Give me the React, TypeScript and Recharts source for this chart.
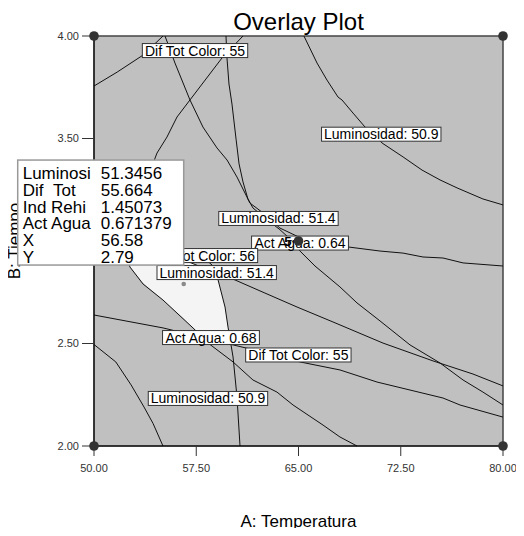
import React from 'react';
import {
    ComposedChart,
    Line,
    Area,
    Scatter,
    XAxis,
    YAxis,
    CartesianGrid,
    ReferenceArea,
    Label,
} from 'recharts';

const FONT = "'Liberation Sans', Arial, Helvetica, sans-serif";

const CHART_W = 508;
const CHART_H = 520;
const MARGIN = { top: 28, right: 13, bottom: 0, left: 0 };
const Y_AXIS_W = 86;
const X_AXIS_H = 82;

const xDomain = [50, 80];
const yDomain = [2, 4];
const xTicks = [50, 57.5, 65, 72.5, 80];
const yTicks = [2, 2.5, 3, 3.5, 4];

// contour lines as [A: Temperatura, B: Tiempo]
const difTot55Upper = [[50, 3.756], [51.7, 3.824], [53.6, 3.907], [55.06, 4.0]];
const actAgua064 = [
    [55.21, 4.0], [55.94, 3.868], [57.04, 3.688], [57.99, 3.556], [59.02, 3.454], [59.76, 3.395],
    [60.49, 3.312], [61.44, 3.185], [62.32, 3.141], [63.64, 3.063], [65.0, 3.02], [66.5, 2.995],
    [68.63, 2.971], [70.98, 2.951], [72.67, 2.941], [74.13, 2.922], [75.6, 2.917], [77.07, 2.893], [80, 2.878],
];
const lum514Upper = [
    [59.68, 4.0], [59.76, 3.888], [59.9, 3.766], [60.12, 3.668], [60.42, 3.497], [60.64, 3.376],
    [60.93, 3.288], [61.29, 3.205], [61.66, 3.161], [62.4, 3.12], [63.64, 3.055], [64.38, 3.01],
    [65.11, 2.951], [66.21, 2.878], [68.04, 2.776], [69.29, 2.698], [70.98, 2.61], [73.18, 2.493],
    [75.38, 2.405], [77.07, 2.322], [78.53, 2.263], [80, 2.2],
];
const lum509Upper = [
    [65.4, 4.0], [66.36, 3.868], [67.09, 3.785], [67.9, 3.702], [68.19, 3.688], [69.0, 3.624],
    [69.88, 3.556], [70.6, 3.517], [71.13, 3.478], [72.67, 3.41], [74.06, 3.346], [75.38, 3.298],
    [76.63, 3.259], [78.53, 3.205], [80, 3.176],
];
const lum514Lower = [
    [50, 3.1], [53.6, 3.0], [56.5, 2.91], [59.1, 2.84], [60.34, 2.81], [62.54, 2.746], [64.89, 2.678],
    [67.53, 2.605], [71.2, 2.502], [74.87, 2.415], [77.8, 2.351], [80, 2.293],
];
const actAgua068 = [
    [60.93, 4.0], [59.39, 3.893], [57.04, 3.688], [56.09, 3.605], [55.35, 3.507], [54.62, 3.429],
    [54.0, 3.32], [53.2, 3.2], [52.5, 3.07], [52.27, 2.98], [52.35, 2.92], [52.64, 2.873], [53.6, 2.79],
    [55.06, 2.712], [57.26, 2.576], [58.51, 2.495], [60.2, 2.41], [61.66, 2.322], [63.42, 2.263],
    [64.6, 2.2], [66.8, 2.102], [68.04, 2.044], [69.29, 2.0],
];
const difTot55Lower = [
    [50, 2.639], [55.06, 2.576], [57.78, 2.532], [61.15, 2.478], [62.9, 2.449], [65.11, 2.41],
    [68.04, 2.371], [70.76, 2.312], [75.6, 2.234], [76.85, 2.2], [80, 2.141],
];
const lum509Lower = [[50, 2.495], [51.6, 2.41], [52.72, 2.298], [53.67, 2.19], [54.33, 2.11], [55.06, 2.0]];
const difTot56 = [
    [53.37, 3.078], [55.21, 3.005], [56.53, 2.956], [57.85, 2.927], [58.66, 2.883], [59.1, 2.81],
    [59.61, 2.678], [59.83, 2.58], [60.2, 2.434], [60.49, 2.239], [60.71, 2.0],
];

const contours = [
    difTot55Upper, actAgua064, lum514Upper, lum509Upper, lum514Lower,
    actAgua068, difTot55Lower, lum509Lower, difTot56,
];

// feasible (white) window: [A, lower B, upper B]
const feasibleRegion = [
    [52.27, 2.946, 3.039], [52.64, 2.873, 3.029], [53.59, 2.795, 3.0], [55.06, 2.712, 2.956],
    [56.53, 2.624, 2.91], [57.26, 2.576, 2.89], [57.92, 2.532, 2.871], [58.51, 2.522, 2.854],
    [58.88, 2.517, 2.844], [59.1, 2.514, 2.81], [59.61, 2.507, 2.678], [59.83, 2.503, 2.58],
    [60.05, 2.499, 2.498],
];

const contourLabels = [
    { x: 57.41, y: 3.929, text: 'Dif Tot Color: 55' },
    { x: 71.07, y: 3.521, text: 'Luminosidad: 50.9' },
    { x: 63.53, y: 3.11, text: 'Luminosidad: 51.4' },
    { x: 65.11, y: 2.99, text: 'Act Agua: 0.64' },
    { x: 58.14, y: 2.929, text: 'Dif Tot Color: 56' },
    { x: 59.0, y: 2.846, text: 'Luminosidad: 51.4' },
    { x: 58.58, y: 2.529, text: 'Act Agua: 0.68' },
    { x: 64.99, y: 2.444, text: 'Dif Tot Color: 55' },
    { x: 58.36, y: 2.232, text: 'Luminosidad: 50.9' },
];

const designPoints = [
    { x: 50, y: 2, n: 1 },
    { x: 50, y: 4, n: 1 },
    { x: 80, y: 2, n: 1 },
    { x: 80, y: 4, n: 1 },
    { x: 65, y: 3, n: 5 },
];

const flagPoint = [{ x: 56.58, y: 2.79 }];
const flagNames = ['Luminosi', 'Dif\u00a0\u00a0Tot', 'Ind Rehi', 'Act Agua', 'X', 'Y'];
const flagValues = ['51.3456', '55.664', '1.45073', '0.671379', '56.58', '2.79'];

const toPoints = (pts: number[][]) => pts.map(([x, y]) => ({ x, y }));

// same linear mapping the axes use, for the flag overlay that must sit above the axes
const plotW = CHART_W - MARGIN.left - MARGIN.right - Y_AXIS_W;
const plotH = CHART_H - MARGIN.top - MARGIN.bottom - X_AXIS_H;
const toPxX = (x: number) => MARGIN.left + Y_AXIS_W + ((x - xDomain[0]) / (xDomain[1] - xDomain[0])) * plotW;
const toPxY = (y: number) => MARGIN.top + ((yDomain[1] - y) / (yDomain[1] - yDomain[0])) * plotH;

let measureCtx: CanvasRenderingContext2D | null = null;
function textWidth(s: string, size: number) {
    if (!measureCtx) measureCtx = document.createElement('canvas').getContext('2d');
    if (!measureCtx) return s.length * size * 0.5;
    measureCtx.font = `${size}px ${FONT}`;
    return measureCtx.measureText(s).width;
}

// eslint-disable-next-line @typescript-eslint/no-explicit-any
const ContourLabel = (props: any) => {
    const { cx, cy, payload } = props;
    const w = textWidth(payload.text, 14) + 5;
    const h = 14;
    return (
        <g>
            <rect x={cx - w / 2} y={cy - h / 2} width={w} height={h} fill="#fff" stroke="#333" strokeWidth={1} />
            <text x={cx} y={cy + 5} textAnchor="middle" fontSize={14} fontFamily={FONT} fill="#000">
                {payload.text}
            </text>
        </g>
    );
};

// eslint-disable-next-line @typescript-eslint/no-explicit-any
const DesignPoint = (props: any) => {
    const { cx, cy, payload } = props;
    return (
        <g>
            {payload.n > 1 && (
                <text x={cx - 7} y={cy + 4.5} textAnchor="end" fontSize={13} fontWeight="bold" fontFamily={FONT} fill="#000">
                    {payload.n}
                </text>
            )}
            <circle cx={cx} cy={cy} r={4.8} fill="#333" />
        </g>
    );
};

// eslint-disable-next-line @typescript-eslint/no-explicit-any
const FlagDot = (props: any) => <circle cx={props.cx} cy={props.cy} r={2.3} fill="#8a8a8a" />;

function FlagBox() {
    const cx = toPxX(flagPoint[0].x);
    const cy = toPxY(flagPoint[0].y);
    const left = cx - 166;
    const top = cy - 124;
    return (
        <svg
            width={CHART_W}
            height={CHART_H}
            style={{ position: 'absolute', left: 0, top: 0, overflow: 'visible', pointerEvents: 'none' }}
        >
            <rect x={left} y={top} width={166} height={105} fill="#fff" stroke="#999" strokeWidth={1.5} />
            {flagNames.map((name, i) => (
                <g key={name}>
                    <text x={left + 5} y={top + 19 + i * 16.8} fontSize={17} fontFamily={FONT} fill="#000">
                        {name}
                    </text>
                    <text x={left + 83} y={top + 19 + i * 16.8} fontSize={17} fontFamily={FONT} fill="#000">
                        {flagValues[i]}
                    </text>
                </g>
            ))}
        </svg>
    );
}

// eslint-disable-next-line @typescript-eslint/no-explicit-any
const XTitle = (props: any) => {
    const vb = props.viewBox;
    return (
        <text x={vb.x + vb.width / 2} y={vb.y + 81} textAnchor="middle" fontSize={17} fontFamily={FONT} fill="#000">
            A: Temperatura
        </text>
    );
};

// eslint-disable-next-line @typescript-eslint/no-explicit-any
const YTitle = (props: any) => {
    const vb = props.viewBox;
    const x = vb.x + 12;
    const y = vb.y + vb.height / 2;
    return (
        <text x={x} y={y} transform={`rotate(-90 ${x} ${y})`} textAnchor="middle" fontSize={17} fontFamily={FONT} fill="#000">
            B: Tiempo
        </text>
    );
};

export default function App() {
    const tick = { fontSize: 11, fill: '#333', fontFamily: FONT };
    return (
        <div style={{ position: 'relative', width: CHART_W, height: CHART_H, fontFamily: FONT }}>
            <style>{'.recharts-surface { overflow: visible; }'}</style>
            <div
                style={{
                    position: 'absolute', left: MARGIN.left + Y_AXIS_W, top: 2, width: plotW, textAlign: 'center',
                    fontSize: 24, lineHeight: '24px', color: '#000',
                }}
            >
                Overlay Plot
            </div>
            <ComposedChart width={CHART_W} height={CHART_H} margin={MARGIN}>
                <CartesianGrid fill="#c0c0c0" horizontal={false} vertical={false} />
                <Area
                    data={feasibleRegion.map(([x, lo, hi]) => ({ x, range: [lo, hi] }))}
                    dataKey="range"
                    type="linear"
                    stroke="none"
                    fill="#f4f4f4"
                    fillOpacity={1}
                    dot={false}
                    activeDot={false}
                    isAnimationActive={false}
                />
                {contours.map((c, i) => (
                    <Line
                        key={i}
                        data={toPoints(c)}
                        dataKey="y"
                        type="linear"
                        stroke="#111"
                        strokeWidth={1}
                        dot={false}
                        activeDot={false}
                        isAnimationActive={false}
                    />
                ))}
                <ReferenceArea x1={50} x2={80} y1={2} y2={4} fill="none" stroke="#444" strokeWidth={1.5} />
                <XAxis
                    type="number"
                    dataKey="x"
                    domain={xDomain}
                    ticks={xTicks}
                    interval={0}
                    tickFormatter={(v: number) => v.toFixed(2)}
                    tickSize={10}
                    tickMargin={8}
                    height={X_AXIS_H}
                    stroke="#000"
                    tick={tick}
                    tickLine={{ stroke: '#333' }}
                >
                    <Label content={XTitle} />
                </XAxis>
                <YAxis
                    type="number"
                    dataKey="y"
                    domain={yDomain}
                    ticks={yTicks}
                    interval={0}
                    tickFormatter={(v: number) => v.toFixed(2)}
                    tickSize={12}
                    tickMargin={3}
                    width={Y_AXIS_W}
                    stroke="#000"
                    tick={tick}
                    tickLine={{ stroke: '#333' }}
                >
                    <Label content={YTitle} />
                </YAxis>
                <Scatter data={contourLabels} shape={ContourLabel} isAnimationActive={false} />
                <Scatter data={designPoints} shape={DesignPoint} isAnimationActive={false} />
                <Scatter data={flagPoint} shape={FlagDot} isAnimationActive={false} />
            </ComposedChart>
            <FlagBox />
        </div>
    );
}
